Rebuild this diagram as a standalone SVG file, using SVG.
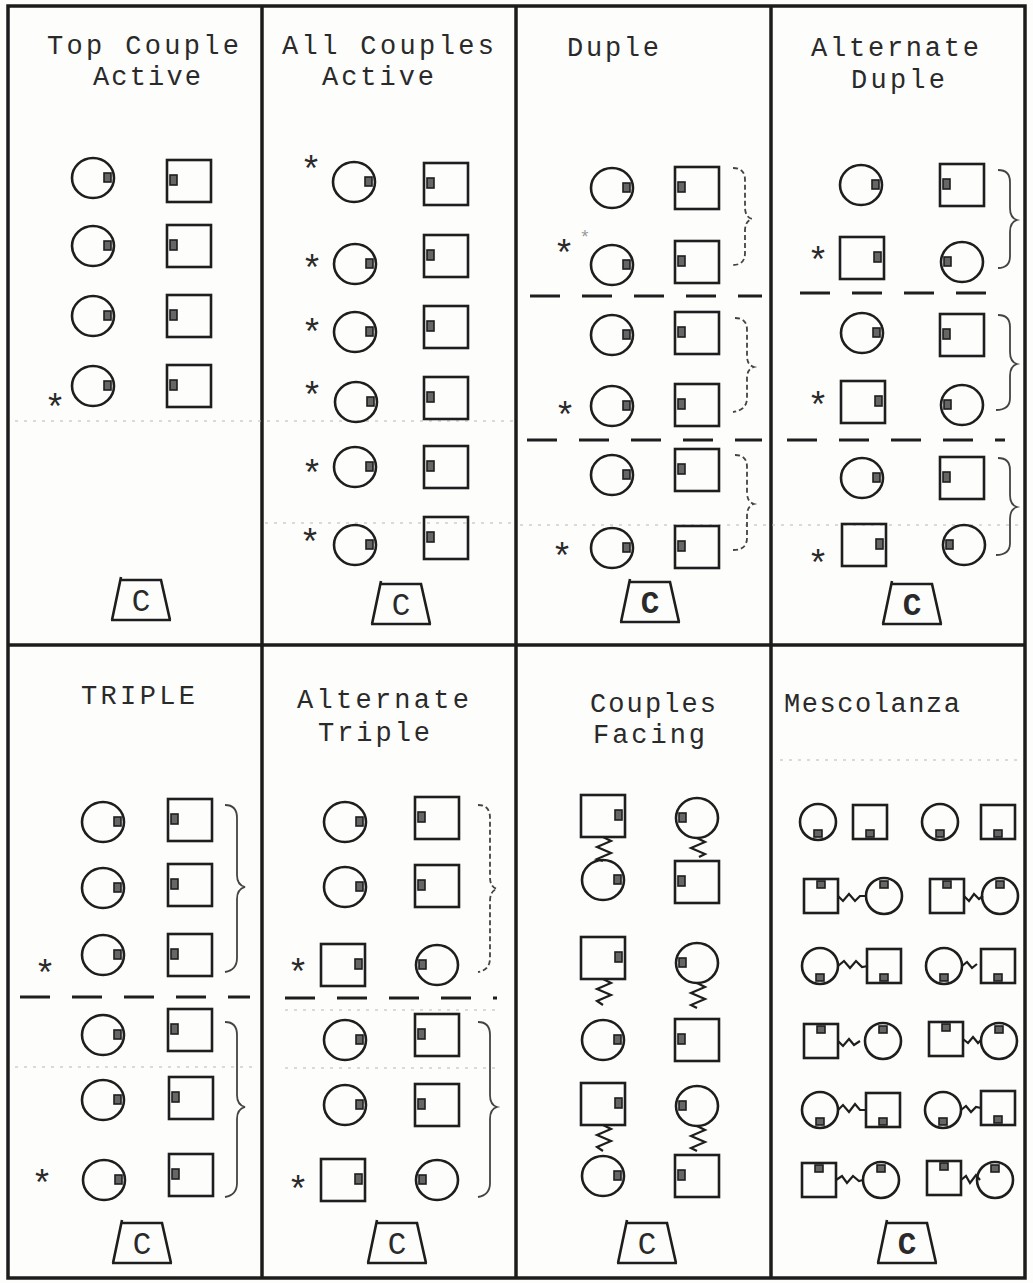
<svg xmlns="http://www.w3.org/2000/svg" xmlns:xlink="http://www.w3.org/1999/xlink" width="1033" height="1283" viewBox="0 0 1033 1283">
<style>
.bd{fill:none;stroke:#1c1c1c;stroke-width:3.5}
.sh{fill:none;stroke:#1e1e1e;stroke-width:2.6}
.mk{fill:#666;stroke:#1e1e1e;stroke-width:1.6}
.t{font-family:"Liberation Mono","DejaVu Sans Mono",monospace;font-size:27px;fill:#2a2a2a;text-anchor:middle}
.ast{font-family:"Liberation Mono","DejaVu Sans Mono",monospace;font-size:36px;fill:#2a2a2a;text-anchor:middle}
.ct{font-family:"Liberation Mono","DejaVu Sans Mono",monospace;font-size:31px;fill:#2a2a2a;text-anchor:middle}
.br{fill:none;stroke:#444;stroke-width:1.8}
.dsh{stroke:#1e1e1e;stroke-width:3;stroke-dasharray:30 22}
.zz{fill:none;stroke:#1e1e1e;stroke-width:2.2}
.dot{stroke:#b8b8b8;stroke-width:1.2;stroke-dasharray:3 6}
.tr{fill:none;stroke:#1e1e1e;stroke-width:2.6}
</style>
<defs>
<g id="cR"><ellipse rx="21" ry="20" class="sh"/><rect x="11" y="-5" width="7" height="9" class="mk"/></g>
<g id="cL"><ellipse rx="21" ry="20" class="sh"/><rect x="-18" y="-5" width="7" height="9" class="mk"/></g>
<g id="sL"><rect x="-22" y="-21" width="44" height="42" class="sh"/><rect x="-19" y="-6" width="7" height="10" class="mk"/></g>
<g id="sR"><rect x="-22" y="-21" width="44" height="42" class="sh"/><rect x="12" y="-6" width="7" height="10" class="mk"/></g>
<g id="mcU"><ellipse rx="18" ry="18" class="sh"/><rect x="-4" y="-15" width="8" height="7" class="mk"/></g>
<g id="mcD"><ellipse rx="18" ry="18" class="sh"/><rect x="-4" y="8" width="8" height="7" class="mk"/></g>
<g id="msU"><rect x="-17" y="-17" width="34" height="34" class="sh"/><rect x="-4" y="-15" width="8" height="7" class="mk"/></g>
<g id="msD"><rect x="-17" y="-17" width="34" height="34" class="sh"/><rect x="-4" y="8" width="8" height="7" class="mk"/></g>
<g id="cbox"><path class="tr" d="M-29 20 L-20 -23 M-20 -20 L20 -20 L29 20 M-30 20 L30 20"/></g>
</defs>
<rect x="0" y="0" width="1033" height="1283" fill="#fdfdfc"/>
<g id="frame">
<rect class="bd" x="8" y="6" width="1017" height="1272"/>
<line class="bd" x1="262" y1="6" x2="262" y2="1278"/>
<line class="bd" x1="516" y1="6" x2="516" y2="1278"/>
<line class="bd" x1="771" y1="6" x2="771" y2="1278"/>
<line class="bd" x1="8" y1="645" x2="1025" y2="645"/>
</g>
<g id="guides">
<line class="dot" x1="15" y1="421" x2="515" y2="421"/>
<line class="dot" x1="265" y1="523" x2="515" y2="523"/>
<line class="dot" x1="520" y1="525" x2="1020" y2="525"/>
<line class="dot" x1="780" y1="760" x2="1020" y2="760"/>
<line class="dot" x1="285" y1="1010" x2="500" y2="1010"/>
<line class="dot" x1="285" y1="1068" x2="500" y2="1068"/>
<line class="dot" x1="15" y1="1067" x2="255" y2="1067"/>
</g>
<!-- Panel 1 -->
<g id="p1-title"><text class="t" x="143" y="54" textLength="192" lengthAdjust="spacing">Top Couple</text><text class="t" x="147" y="85" textLength="108" lengthAdjust="spacing">Active</text></g>
<g id="p1-c1"><use xlink:href="#cR" x="93" y="178"/></g>
<g id="p1-s1"><use xlink:href="#sL" x="189" y="181"/></g>
<g id="p1-c2"><use xlink:href="#cR" x="93" y="246"/></g>
<g id="p1-s2"><use xlink:href="#sL" x="189" y="246"/></g>
<g id="p1-c3"><use xlink:href="#cR" x="93" y="316"/></g>
<g id="p1-s3"><use xlink:href="#sL" x="189" y="316"/></g>
<g id="p1-c4"><use xlink:href="#cR" x="93" y="386"/><text class="ast" x="55" y="420">*</text></g>
<g id="p1-s4"><use xlink:href="#sL" x="189" y="386"/></g>
<g id="p1-cbox"><use xlink:href="#cbox" x="141" y="600"/><text class="ct" x="141" y="611">C</text></g>
<!-- Panel 2 -->
<g id="p2-title"><text class="t" x="388" y="54" textLength="212" lengthAdjust="spacing">All Couples</text><text class="t" x="378" y="85" textLength="112" lengthAdjust="spacing">Active</text></g>
<g id="p2-c1"><use xlink:href="#cR" x="354" y="182"/><text class="ast" x="311" y="182">*</text></g>
<g id="p2-s1"><use xlink:href="#sL" x="446" y="184"/></g>
<g id="p2-c2"><use xlink:href="#cR" x="355" y="264"/><text class="ast" x="312" y="281">*</text></g>
<g id="p2-s2"><use xlink:href="#sL" x="446" y="256"/></g>
<g id="p2-c3"><use xlink:href="#cR" x="355" y="332"/><text class="ast" x="312" y="345">*</text></g>
<g id="p2-s3"><use xlink:href="#sL" x="446" y="327"/></g>
<g id="p2-c4"><use xlink:href="#cR" x="356" y="402"/><text class="ast" x="312" y="408">*</text></g>
<g id="p2-s4"><use xlink:href="#sL" x="446" y="398"/></g>
<g id="p2-c5"><use xlink:href="#cR" x="355" y="467"/><text class="ast" x="312" y="486">*</text></g>
<g id="p2-s5"><use xlink:href="#sL" x="446" y="467"/></g>
<g id="p2-c6"><use xlink:href="#cR" x="355" y="545"/><text class="ast" x="310" y="555">*</text></g>
<g id="p2-s6"><use xlink:href="#sL" x="446" y="538"/></g>
<g id="p2-cbox"><use xlink:href="#cbox" x="401" y="604"/><text class="ct" x="401" y="615">C</text></g>
<!-- Panel 3 -->
<g id="p3-title"><text class="t" x="613" y="56" textLength="92" lengthAdjust="spacing">Duple</text></g>
<g id="p3-c1"><use xlink:href="#cR" x="612" y="188"/></g>
<g id="p3-s1"><use xlink:href="#sL" x="697" y="188"/></g>
<g id="p3-c2"><use xlink:href="#cR" x="612" y="265"/><text class="ast" x="564" y="266">*</text><text class="ast" x="585" y="243" style="font-size:18px;fill:#999">*</text></g>
<g id="p3-s2"><use xlink:href="#sL" x="697" y="262"/></g>
<g id="p3-c3"><use xlink:href="#cR" x="612" y="335"/></g>
<g id="p3-s3"><use xlink:href="#sL" x="697" y="333"/></g>
<g id="p3-c4"><use xlink:href="#cR" x="612" y="406"/><text class="ast" x="565" y="428">*</text></g>
<g id="p3-s4"><use xlink:href="#sL" x="697" y="405"/></g>
<g id="p3-c5"><use xlink:href="#cR" x="612" y="475"/></g>
<g id="p3-s5"><use xlink:href="#sL" x="697" y="470"/></g>
<g id="p3-c6"><use xlink:href="#cR" x="612" y="548"/><text class="ast" x="562" y="569">*</text></g>
<g id="p3-s6"><use xlink:href="#sL" x="697" y="547"/></g>
<g id="p3-cbox"><use xlink:href="#cbox" x="650" y="602"/><text class="ct" x="650" y="613" style="font-weight:bold">C</text></g>
<!-- Panel 4 -->
<g id="p4-title"><text class="t" x="895" y="56" textLength="168" lengthAdjust="spacing">Alternate</text><text class="t" x="898" y="88" textLength="94" lengthAdjust="spacing">Duple</text></g>
<g id="p4-c1"><use xlink:href="#cR" x="861" y="185"/></g>
<g id="p4-s1"><use xlink:href="#sL" x="962" y="185"/></g>
<g id="p4-s2"><use xlink:href="#sR" x="862" y="258"/><text class="ast" x="818" y="273">*</text></g>
<g id="p4-c2"><use xlink:href="#cL" x="962" y="262"/></g>
<g id="p4-c3"><use xlink:href="#cR" x="862" y="333"/></g>
<g id="p4-s3"><use xlink:href="#sL" x="962" y="335"/></g>
<g id="p4-s4"><use xlink:href="#sR" x="863" y="402"/><text class="ast" x="818" y="418">*</text></g>
<g id="p4-c4"><use xlink:href="#cL" x="962" y="405"/></g>
<g id="p4-c5"><use xlink:href="#cR" x="862" y="478"/></g>
<g id="p4-s5"><use xlink:href="#sL" x="962" y="478"/></g>
<g id="p4-s6"><use xlink:href="#sR" x="864" y="545"/><text class="ast" x="818" y="576">*</text></g>
<g id="p4-c6"><use xlink:href="#cL" x="964" y="545"/></g>
<g id="p4-cbox"><use xlink:href="#cbox" x="912" y="604"/><text class="ct" x="912" y="615" style="font-weight:bold">C</text></g>
<!-- Panel 5 -->
<g id="p5-title"><text class="t" x="138" y="704" textLength="114" lengthAdjust="spacing">TRIPLE</text></g>
<g id="p5-c1"><use xlink:href="#cR" x="103" y="822"/></g>
<g id="p5-s1"><use xlink:href="#sL" x="190" y="820"/></g>
<g id="p5-c2"><use xlink:href="#cR" x="103" y="888"/></g>
<g id="p5-s2"><use xlink:href="#sL" x="190" y="885"/></g>
<g id="p5-c3"><use xlink:href="#cR" x="103" y="955"/><text class="ast" x="45" y="986">*</text></g>
<g id="p5-s3"><use xlink:href="#sL" x="190" y="955"/></g>
<g id="p5-c4"><use xlink:href="#cR" x="103" y="1035"/></g>
<g id="p5-s4"><use xlink:href="#sL" x="190" y="1030"/></g>
<g id="p5-c5"><use xlink:href="#cR" x="103" y="1100"/></g>
<g id="p5-s5"><use xlink:href="#sL" x="191" y="1098"/></g>
<g id="p5-c6"><use xlink:href="#cR" x="104" y="1180"/><text class="ast" x="42" y="1196">*</text></g>
<g id="p5-s6"><use xlink:href="#sL" x="191" y="1175"/></g>
<g id="p5-cbox"><use xlink:href="#cbox" x="142" y="1243"/><text class="ct" x="142" y="1254">C</text></g>
<!-- Panel 6 -->
<g id="p6-title"><text class="t" x="383" y="708" textLength="172" lengthAdjust="spacing">Alternate</text><text class="t" x="374" y="741" textLength="112" lengthAdjust="spacing">Triple</text></g>
<g id="p6-c1"><use xlink:href="#cR" x="345" y="822"/></g>
<g id="p6-s1"><use xlink:href="#sL" x="437" y="818"/></g>
<g id="p6-c2"><use xlink:href="#cR" x="345" y="887"/></g>
<g id="p6-s2"><use xlink:href="#sL" x="437" y="886"/></g>
<g id="p6-s3"><use xlink:href="#sR" x="343" y="965"/><text class="ast" x="298" y="985">*</text></g>
<g id="p6-c3"><use xlink:href="#cL" x="437" y="965"/></g>
<g id="p6-c4"><use xlink:href="#cR" x="345" y="1040"/></g>
<g id="p6-s4"><use xlink:href="#sL" x="437" y="1035"/></g>
<g id="p6-c5"><use xlink:href="#cR" x="345" y="1105"/></g>
<g id="p6-s5"><use xlink:href="#sL" x="437" y="1105"/></g>
<g id="p6-s6"><use xlink:href="#sR" x="343" y="1180"/><text class="ast" x="298" y="1202">*</text></g>
<g id="p6-c6"><use xlink:href="#cL" x="437" y="1180"/></g>
<g id="p6-cbox"><use xlink:href="#cbox" x="397" y="1243"/><text class="ct" x="397" y="1254">C</text></g>
<!-- Panel 7 -->
<g id="p7-title"><text class="t" x="653" y="712" textLength="126" lengthAdjust="spacing">Couples</text><text class="t" x="649" y="743" textLength="112" lengthAdjust="spacing">Facing</text></g>
<g id="p7-l1s"><use xlink:href="#sR" x="603" y="816"/></g>
<g id="p7-l1c"><use xlink:href="#cR" x="603" y="880"/></g>
<g id="p7-l2s"><use xlink:href="#sR" x="603" y="958"/></g>
<g id="p7-l2c"><use xlink:href="#cR" x="603" y="1040"/></g>
<g id="p7-l3s"><use xlink:href="#sR" x="603" y="1104"/></g>
<g id="p7-l3c"><use xlink:href="#cR" x="603" y="1176"/></g>
<g id="p7-r1c"><use xlink:href="#cL" x="697" y="818"/></g>
<g id="p7-r1s"><use xlink:href="#sL" x="697" y="882"/></g>
<g id="p7-r2c"><use xlink:href="#cL" x="697" y="963"/></g>
<g id="p7-r2s"><use xlink:href="#sL" x="697" y="1040"/></g>
<g id="p7-r3c"><use xlink:href="#cL" x="697" y="1106"/></g>
<g id="p7-r3s"><use xlink:href="#sL" x="697" y="1176"/></g>
<g id="p7-cbox"><use xlink:href="#cbox" x="647" y="1243"/><text class="ct" x="647" y="1254">C</text></g>
<!-- Panel 8 -->
<g id="p8-title"><text class="t" x="872" y="712" textLength="176" lengthAdjust="spacing">Mescolanza</text></g>
<g id="p8-r1a"><use xlink:href="#mcD" x="818" y="822"/></g>
<g id="p8-r1b"><use xlink:href="#msD" x="870" y="822"/></g>
<g id="p8-r1c"><use xlink:href="#mcD" x="940" y="822"/></g>
<g id="p8-r1d"><use xlink:href="#msD" x="998" y="822"/></g>
<g id="p8-r2a"><use xlink:href="#msU" x="821" y="896"/></g>
<g id="p8-r2b"><use xlink:href="#mcU" x="884" y="896"/></g>
<g id="p8-r2c"><use xlink:href="#msU" x="947" y="896"/></g>
<g id="p8-r2d"><use xlink:href="#mcU" x="1000" y="896"/></g>
<g id="p8-r3a"><use xlink:href="#mcD" x="820" y="966"/></g>
<g id="p8-r3b"><use xlink:href="#msD" x="884" y="966"/></g>
<g id="p8-r3c"><use xlink:href="#mcD" x="944" y="966"/></g>
<g id="p8-r3d"><use xlink:href="#msD" x="998" y="966"/></g>
<g id="p8-r4a"><use xlink:href="#msU" x="821" y="1041"/></g>
<g id="p8-r4b"><use xlink:href="#mcU" x="883" y="1041"/></g>
<g id="p8-r4c"><use xlink:href="#msU" x="946" y="1039"/></g>
<g id="p8-r4d"><use xlink:href="#mcU" x="999" y="1041"/></g>
<g id="p8-r5a"><use xlink:href="#mcD" x="820" y="1110"/></g>
<g id="p8-r5b"><use xlink:href="#msD" x="883" y="1110"/></g>
<g id="p8-r5c"><use xlink:href="#mcD" x="943" y="1110"/></g>
<g id="p8-r5d"><use xlink:href="#msD" x="998" y="1108"/></g>
<g id="p8-r6a"><use xlink:href="#msU" x="819" y="1180"/></g>
<g id="p8-r6b"><use xlink:href="#mcU" x="881" y="1180"/></g>
<g id="p8-r6c"><use xlink:href="#msU" x="944" y="1178"/></g>
<g id="p8-r6d"><use xlink:href="#mcU" x="995" y="1180"/></g>
<g id="p8-cbox"><use xlink:href="#cbox" x="907" y="1243"/><text class="ct" x="907" y="1254" style="font-weight:bold">C</text></g>
<!-- connectors -->
<g id="connectors">
<line class="dsh" x1="530" y1="296" x2="762" y2="296"/>
<line class="dsh" x1="527" y1="440" x2="762" y2="440"/>
<line class="dsh" x1="800" y1="293" x2="1005" y2="293"/>
<line class="dsh" x1="787" y1="440" x2="1005" y2="440"/>
<line class="dsh" x1="20" y1="997" x2="250" y2="997"/>
<line class="dsh" x1="285" y1="998" x2="497" y2="998"/>
<path class="br" style="stroke-dasharray:5 3" d="M733 168 Q745 168 745 180 L745 207 Q745 217 752 219 Q745 221 745 231 L745 253 Q745 265 733 265"/>
<path class="br" style="stroke-dasharray:5 3" d="M735 318 Q747 318 747 330 L747 356 Q747 365 754 367 Q747 369 747 378 L747 398 Q747 410 733 412"/>
<path class="br" style="stroke-dasharray:5 3" d="M735 455 Q747 455 747 467 L747 492 Q747 502 754 504 Q747 506 747 516 L747 538 Q747 550 733 550"/>
<path class="br" d="M998 170 Q1010 170 1010 182 L1010 208 Q1010 218 1017 220 Q1010 222 1010 232 L1010 256 Q1010 268 998 268"/>
<path class="br" d="M998 315 Q1010 315 1010 327 L1010 352 Q1010 362 1017 364 Q1010 366 1010 376 L1010 398 Q1010 410 996 410"/>
<path class="br" d="M998 458 Q1010 458 1010 470 L1010 495 Q1010 505 1017 507 Q1010 509 1010 519 L1010 543 Q1010 555 996 555"/>
<path class="br" d="M225 805 Q237 805 237 818 L237 875 Q237 885 245 887 Q237 889 237 899 L237 958 Q237 970 225 972"/>
<path class="br" d="M225 1022 Q237 1022 237 1035 L237 1095 Q237 1105 245 1107 Q237 1109 237 1119 L237 1183 Q237 1195 225 1197"/>
<path class="br" style="stroke-dasharray:5 3" d="M478 805 Q490 805 490 818 L490 877 Q490 887 497 889 Q490 891 490 901 L490 958 Q490 970 478 972"/>
<path class="br" d="M478 1022 Q490 1022 490 1035 L490 1095 Q490 1105 497 1107 Q490 1109 490 1119 L490 1183 Q490 1195 478 1197"/>
<path class="zz" d="M603 837 l8 4 l-14 6 l14 6 l-14 6 l6 2"/>
<path class="zz" d="M603 979 l8 4 l-14 6 l14 6 l-14 6 l6 4"/>
<path class="zz" d="M603 1125 l8 4 l-14 6 l14 6 l-14 6 l6 4"/>
<path class="zz" d="M697 838 l8 4 l-14 6 l14 6 l-6 3"/>
<path class="zz" d="M697 983 l8 4 l-14 6 l14 6 l-14 6 l6 3"/>
<path class="zz" d="M697 1126 l8 4 l-14 6 l14 6 l-14 6 l6 3"/>
<path class="zz" d="M838 896 l5 5 l6 -7 l6 7 l5 -5 l7 0"/>
<path class="zz" d="M964 896 l5 5 l5 -7 l5 5 l4 -3"/>
<path class="zz" d="M838 966 l6 -5 l6 7 l6 -7 l6 6 l6 -1"/>
<path class="zz" d="M962 966 l5 -4 l5 6 l5 -4"/>
<path class="zz" d="M838 1041 l5 5 l6 -7 l5 6 l6 -4"/>
<path class="zz" d="M963 1039 l5 4 l5 -6 l5 6 l3 -3"/>
<path class="zz" d="M838 1110 l5 -5 l6 7 l6 -8 l5 6 l6 0"/>
<path class="zz" d="M961 1110 l5 -4 l5 6 l5 -5 l5 1"/>
<path class="zz" d="M836 1180 l6 -4 l5 7 l6 -7 l6 5 l4 -1"/>
<path class="zz" d="M961 1180 l5 -4 l4 7 l6 -8 l4 5"/>
</g>
</svg>
